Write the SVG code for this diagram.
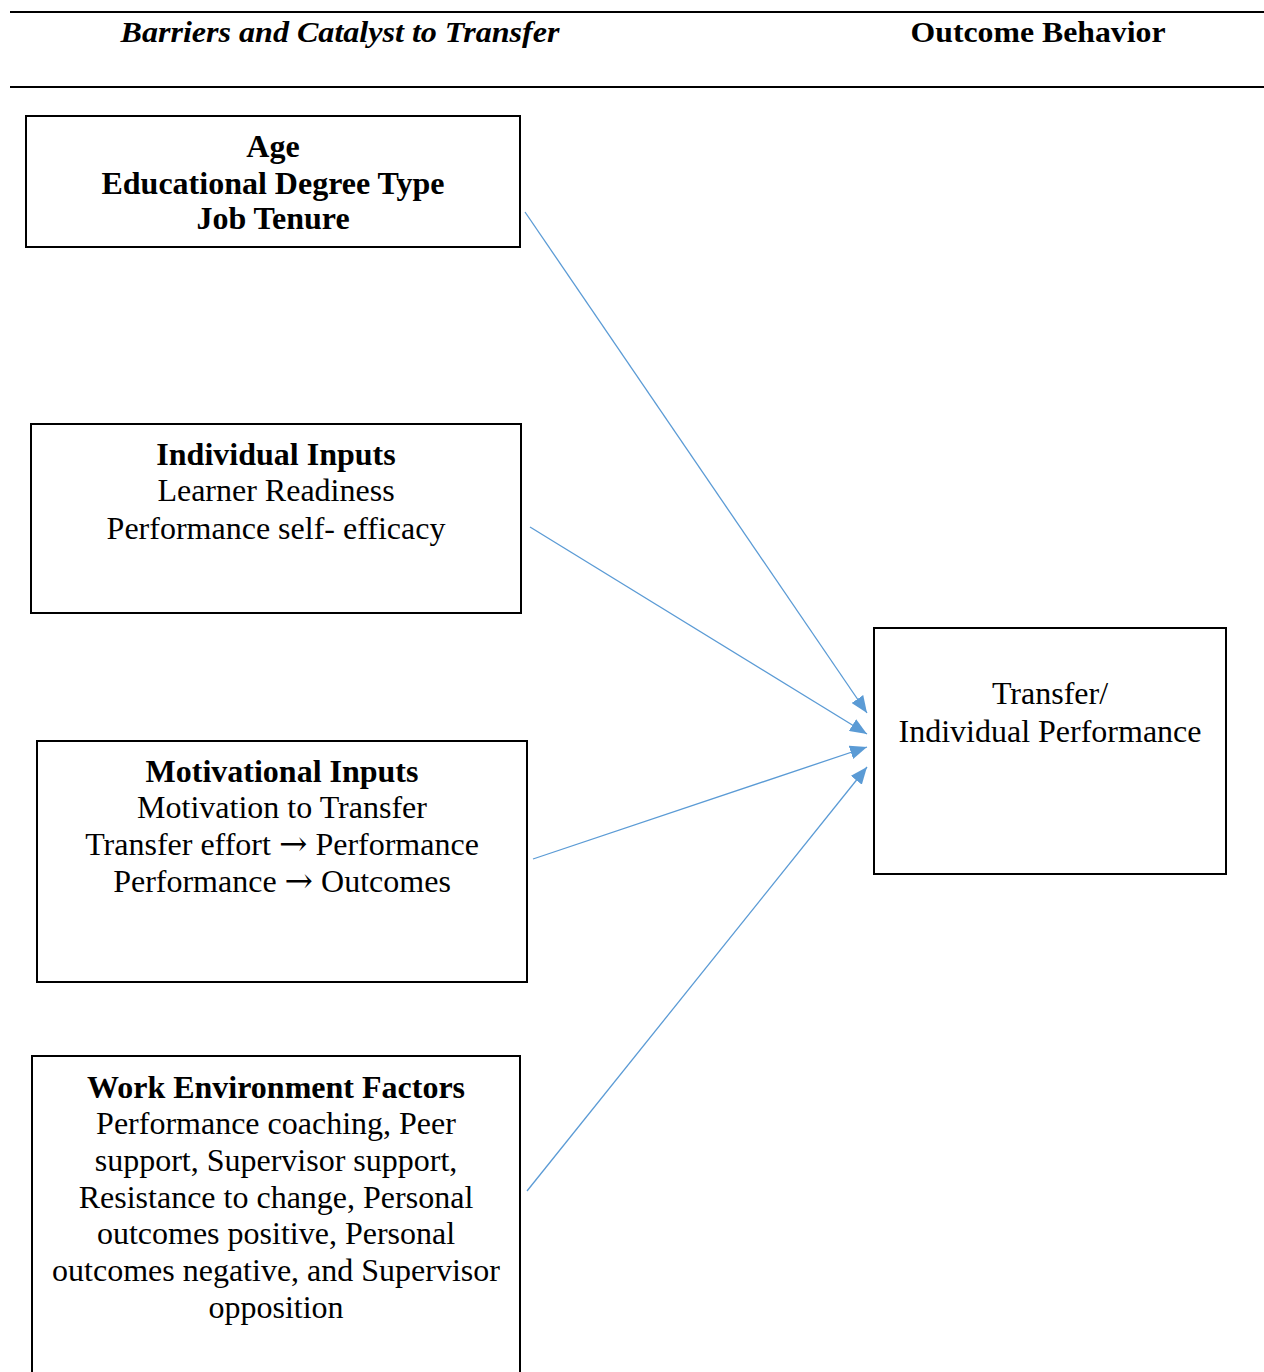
<svg xmlns="http://www.w3.org/2000/svg" width="1264" height="1372" viewBox="0 0 1264 1372">
<defs>
<style>
text{font-family:"Liberation Serif","Times New Roman",serif;font-size:32px;fill:#000;text-anchor:middle}
.b{font-weight:bold}
.hdr{font-weight:bold;font-size:30px}
.ar{font-family:"DejaVu Serif",serif;font-size:34px}
.box{fill:#fff;stroke:#000;stroke-width:2}
.rule{stroke:#000;stroke-width:2}
.c{stroke:#5B9BD5;stroke-width:1.3;fill:none;marker-end:url(#ah)}
</style>
<marker id="ah" viewBox="0 0 10 10" refX="10" refY="5" markerWidth="17" markerHeight="14" markerUnits="userSpaceOnUse" orient="auto" preserveAspectRatio="none">
<path d="M0,0 L10,5 L0,10 z" fill="#5B9BD5"/>
</marker>
</defs>
<rect width="1264" height="1372" fill="#fff"/>
<g id="header">
<line class="rule" x1="10" y1="12" x2="1264" y2="12"/>
<line class="rule" x1="10" y1="87" x2="1264" y2="87"/>
<text class="hdr" x="340" y="42" font-style="italic" textLength="439" lengthAdjust="spacingAndGlyphs">Barriers and Catalyst to Transfer</text>
<text class="hdr" x="1038" y="42" textLength="255" lengthAdjust="spacingAndGlyphs">Outcome Behavior</text>
</g>
<g id="connectors">
<line class="c" x1="525" y1="212" x2="867" y2="713"/>
<line class="c" x1="530" y1="527" x2="867" y2="734"/>
<line class="c" x1="533" y1="859" x2="867" y2="747"/>
<line class="c" x1="527" y1="1191" x2="867" y2="767"/>
</g>
<g id="demographics">
<rect class="box" x="26" y="116" width="494" height="131"/>
<text class="b" x="273" y="157">Age</text>
<text class="b" x="273" y="194">Educational Degree Type</text>
<text class="b" x="273" y="229">Job Tenure</text>
</g>
<g id="individual-inputs">
<rect class="box" x="31" y="424" width="490" height="189"/>
<text class="b" x="276" y="465">Individual Inputs</text>
<text x="276" y="501">Learner Readiness</text>
<text x="276" y="539">Performance self- efficacy</text>
</g>
<g id="motivational-inputs">
<rect class="box" x="37" y="741" width="490" height="241"/>
<text class="b" x="282" y="782">Motivational Inputs</text>
<text x="282" y="818">Motivation to Transfer</text>
<text x="282" y="855">Transfer effort <tspan class="ar">→</tspan> Performance</text>
<text x="282" y="892">Performance <tspan class="ar">→</tspan> Outcomes</text>
</g>
<g id="work-environment">
<rect class="box" x="32" y="1056" width="488" height="330"/>
<text class="b" x="276" y="1098">Work Environment Factors</text>
<text x="276" y="1134">Performance coaching, Peer</text>
<text x="276" y="1171">support, Supervisor support,</text>
<text x="276" y="1208">Resistance to change, Personal</text>
<text x="276" y="1244">outcomes positive, Personal</text>
<text x="276" y="1281">outcomes negative, and Supervisor</text>
<text x="276" y="1318">opposition</text>
</g>
<g id="outcome">
<rect class="box" x="874" y="628" width="352" height="246"/>
<text x="1050" y="704">Transfer/</text>
<text x="1050" y="742">Individual Performance</text>
</g>
</svg>
